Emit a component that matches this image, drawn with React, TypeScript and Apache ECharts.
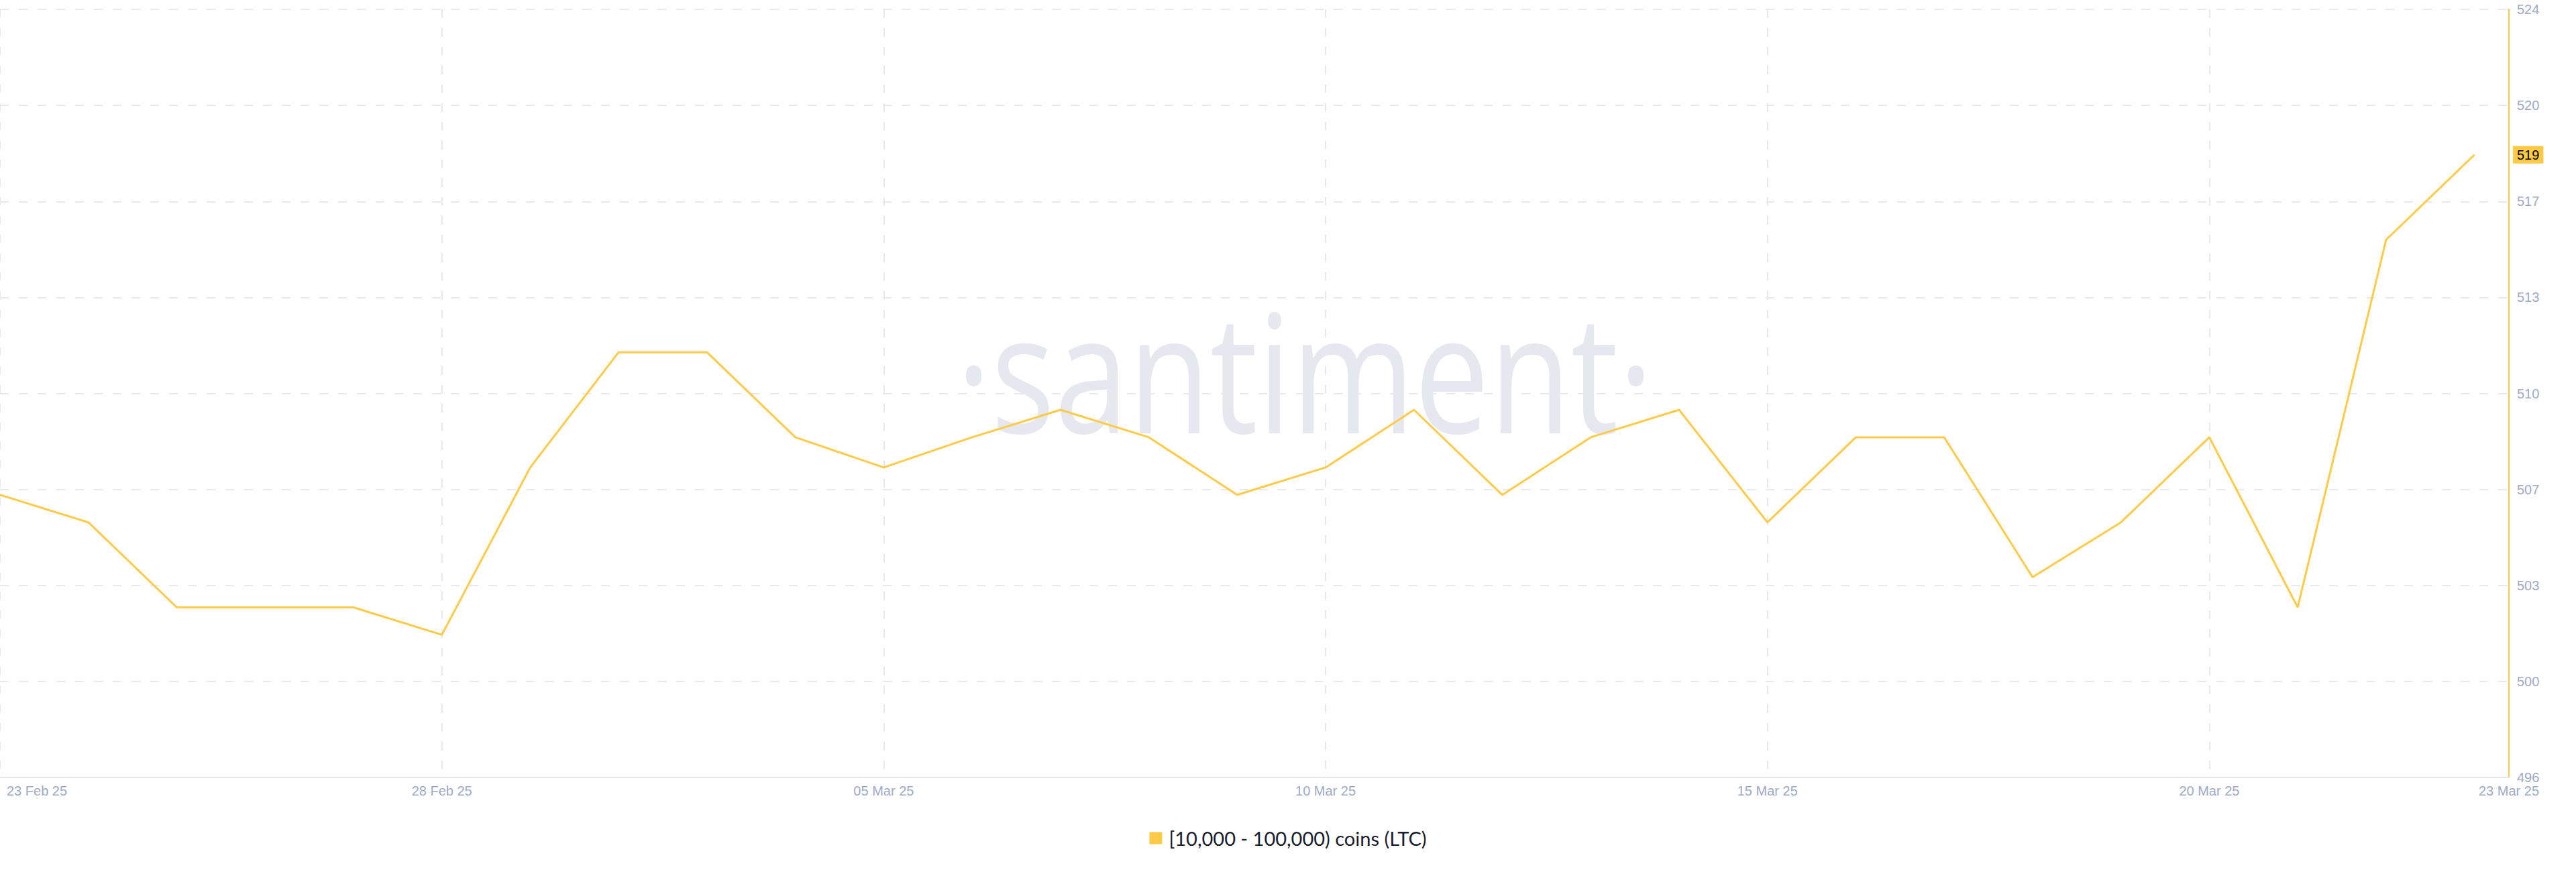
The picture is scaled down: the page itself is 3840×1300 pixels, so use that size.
import React, { useEffect, useRef } from "react";
import * as echarts from "echarts";

// ---- data ----
const dates = [
  "23 Feb 25", "24 Feb 25", "25 Feb 25", "26 Feb 25", "27 Feb 25", "28 Feb 25",
  "01 Mar 25", "02 Mar 25", "03 Mar 25", "04 Mar 25", "05 Mar 25", "06 Mar 25",
  "07 Mar 25", "08 Mar 25", "09 Mar 25", "10 Mar 25", "11 Mar 25", "12 Mar 25",
  "13 Mar 25", "14 Mar 25", "15 Mar 25", "16 Mar 25", "17 Mar 25", "18 Mar 25",
  "19 Mar 25", "20 Mar 25", "21 Mar 25", "22 Mar 25", "23 Mar 25",
];
const holders = [
  506.3, 505.3, 502.2, 502.2, 502.2, 501.2, 507.3, 511.5, 511.5, 508.4,
  507.3, 508.4, 509.4, 508.4, 506.3, 507.3, 509.4, 506.3, 508.4, 509.4,
  505.3, 508.4, 508.4, 503.3, 505.3, 508.4, 502.2, 515.6, 518.7,
];
const yTickLabels = ["496", "500", "503", "507", "510", "513", "517", "520", "524"];
const seriesName = "[10,000 - 100,000) coins (LTC)";

// ---- axis layout ----
const Y_MIN = 496;
const Y_MAX = 524;
const Y_STEP = 3.5;
const X_MAX = 28.39;
const X_STEP = 5;

const YELLOW = "#ffcb47";
const AXIS_TEXT = "#9faac4";
const GRID_COLOR = "#e8e9ee";

export default function App() {
  const ref = useRef<HTMLDivElement>(null);

  useEffect(() => {
    if (!ref.current) return;
    const chart = echarts.init(ref.current, null, { renderer: "svg" });
    const last = holders[holders.length - 1];

    chart.setOption({
      animation: false,
      backgroundColor: "#ffffff",
      grid: { left: 0, right: 100, top: 14, bottom: 141, containLabel: false },
      graphic: [
        {
          type: "text",
          x: 1945,
          y: 551,
          scaleX: 0.81,
          z: -10,
          silent: true,
          style: {
            text: "·santiment·",
            font: '245px "Open Sans"',
            fill: "#e6e8f0",
            align: "center",
            verticalAlign: "middle",
            textAlign: "center",
            textVerticalAlign: "middle",
          },
        },
      ],
      legend: {
        left: "center",
        top: 1230,
        icon: "rect",
        itemWidth: 19,
        itemHeight: 18,
        itemGap: 20,
        data: [seriesName],
        textStyle: {
          fontFamily: "Lato",
          fontSize: 29,
          color: "#1a1d2d",
          padding: [0, 0, 0, 5],
        },
      },
      xAxis: {
        type: "value",
        min: 0,
        max: X_MAX,
        interval: X_STEP,
        axisLine: { show: true, onZero: false, lineStyle: { color: "#e6e6e9", width: 2 } },
        axisTick: { show: false },
        splitLine: {
          show: true,
          lineStyle: { color: GRID_COLOR, width: 2, type: [13, 15] },
        },
        axisLabel: {
          margin: 10,
          fontFamily: "Liberation Sans",
          fontSize: 20,
          color: AXIS_TEXT,
          alignMinLabel: "left",
          formatter: (v: number) => {
            if (Math.abs(v - X_MAX) < 1e-6) return dates[dates.length - 1];
            const i = Math.round(v);
            if (i === 0) return "{l|" + dates[0] + "}";
            return dates[i] ?? "";
          },
          rich: {
            l: {
              padding: [0, 0, 0, 10],
              fontFamily: "Liberation Sans",
              fontSize: 20,
              color: AXIS_TEXT,
            },
          },
        },
      },
      yAxis: {
        type: "value",
        position: "right",
        min: Y_MIN,
        max: Y_MAX,
        interval: Y_STEP,
        axisLine: { show: true, onZero: false, lineStyle: { color: YELLOW, width: 2 } },
        axisTick: { show: false },
        splitLine: {
          show: true,
          lineStyle: { color: GRID_COLOR, width: 2, type: [13, 15] },
        },
        axisLabel: {
          margin: 12,
          fontFamily: "Liberation Sans",
          fontSize: 20,
          color: AXIS_TEXT,
          formatter: (v: number) => yTickLabels[Math.round((v - Y_MIN) / Y_STEP)] ?? "",
        },
      },
      series: [
        {
          name: seriesName,
          type: "line",
          data: holders.map((v, i) => [i, v]),
          showSymbol: false,
          symbol: "none",
          lineStyle: { color: YELLOW, width: 3 },
          itemStyle: { color: YELLOW },
          markLine: {
            silent: true,
            symbol: "none",
            lineStyle: { color: "rgba(0,0,0,0)", width: 1, type: "solid" },
            label: {
              show: true,
              position: "end",
              distance: 6,
              formatter: () => String(Math.round(last)),
              backgroundColor: YELLOW,
              color: "#000000",
              fontFamily: "Liberation Sans",
              fontSize: 20,
              padding: [3, 6, 3, 6],
            },
            data: [{ yAxis: last }],
          },
        },
      ],
    });

    return () => chart.dispose();
  }, []);

  return (
    <div
      ref={ref}
      style={{ position: "absolute", left: 0, top: 0, width: 3840, height: 1300 }}
    />
  );
}
